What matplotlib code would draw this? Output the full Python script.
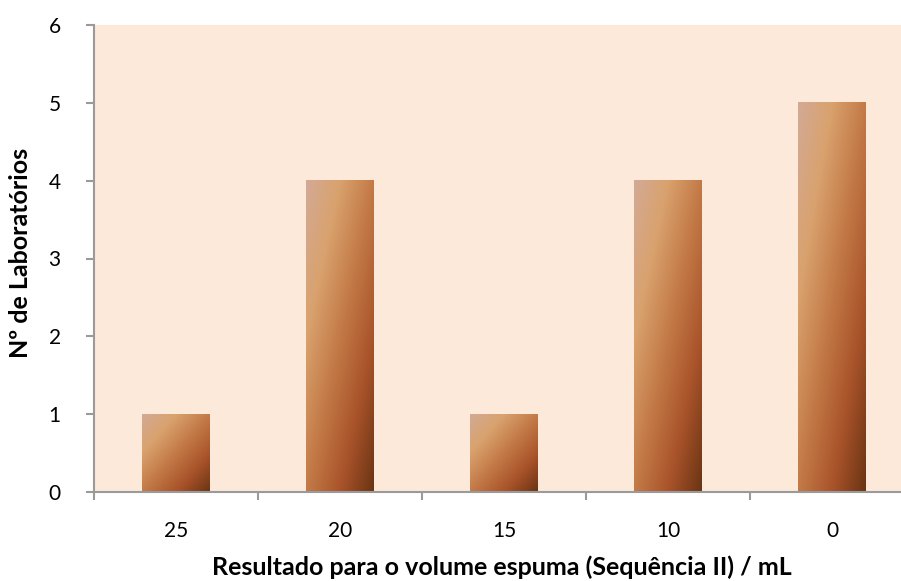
import matplotlib.pyplot as plt
from matplotlib.colors import LinearSegmentedColormap
from matplotlib.ticker import FixedLocator
import numpy as np

plt.rcParams['font.family'] = ['Lato', 'DejaVu Sans']

categorias = ['25', '20', '15', '10', '0']
laboratorios = [1, 4, 1, 4, 5]

fundo = '#FDE9DA'
eixo_cor = '#9A9A9A'
gradiente = LinearSegmentedColormap.from_list(
    'cobre', ['#D3AA96', '#D9A26E', '#C37A47', '#A9532A', '#6A3413'])

fig = plt.figure(figsize=(9.01, 5.81), dpi=100)
ax = fig.add_axes([94 / 901, 89 / 581, 820 / 901, 467 / 581])
ax.set_facecolor(fundo)

x = np.arange(len(categorias))
largura = 0.41
barras = ax.bar(x, laboratorios, width=largura, color='none', zorder=2)

# gradiente diagonal dentro de cada barra
u = np.linspace(0, 1, 200)
v = np.linspace(1, 0, 400)
uu, vv = np.meshgrid(u, v)
t = (uu + (1 - vv)) / 2
for b in barras:
    x0, y0 = b.get_x(), b.get_y()
    ax.imshow(t, cmap=gradiente, vmin=0, vmax=1, aspect='auto',
              extent=[x0, x0 + b.get_width(), y0, y0 + b.get_height()],
              zorder=2, interpolation='bilinear')

ax.set_xlim(-0.5, len(categorias) - 0.5)
ax.set_ylim(0, 6)
ax.set_yticks(range(0, 7))
ax.set_xticks(x)
ax.set_xticklabels(categorias)
ax.xaxis.set_minor_locator(FixedLocator(np.arange(-0.5, len(categorias), 1)))

for lado in ['top', 'right']:
    ax.spines[lado].set_visible(False)
for lado in ['left', 'bottom']:
    ax.spines[lado].set_color(eixo_cor)
    ax.spines[lado].set_linewidth(1.5)

ax.tick_params(axis='y', length=6, width=1.5, color=eixo_cor, pad=18,
               labelsize=15)
ax.tick_params(axis='x', which='major', length=0, pad=21, labelsize=15)
ax.tick_params(axis='x', which='minor', length=6, width=1.5, color=eixo_cor)

ax.set_xlabel('Resultado para o volume espuma (Sequência II) / mL',
              fontsize=18, fontweight='bold', va='baseline')
ax.xaxis.set_label_coords(0.4976, -0.178)
ax.set_ylabel('Nº de Laboratórios', fontsize=18, fontweight='bold',
              va='center')
ax.yaxis.set_label_coords(-0.090, 0.512)

fig.savefig('out.png', dpi=100)
